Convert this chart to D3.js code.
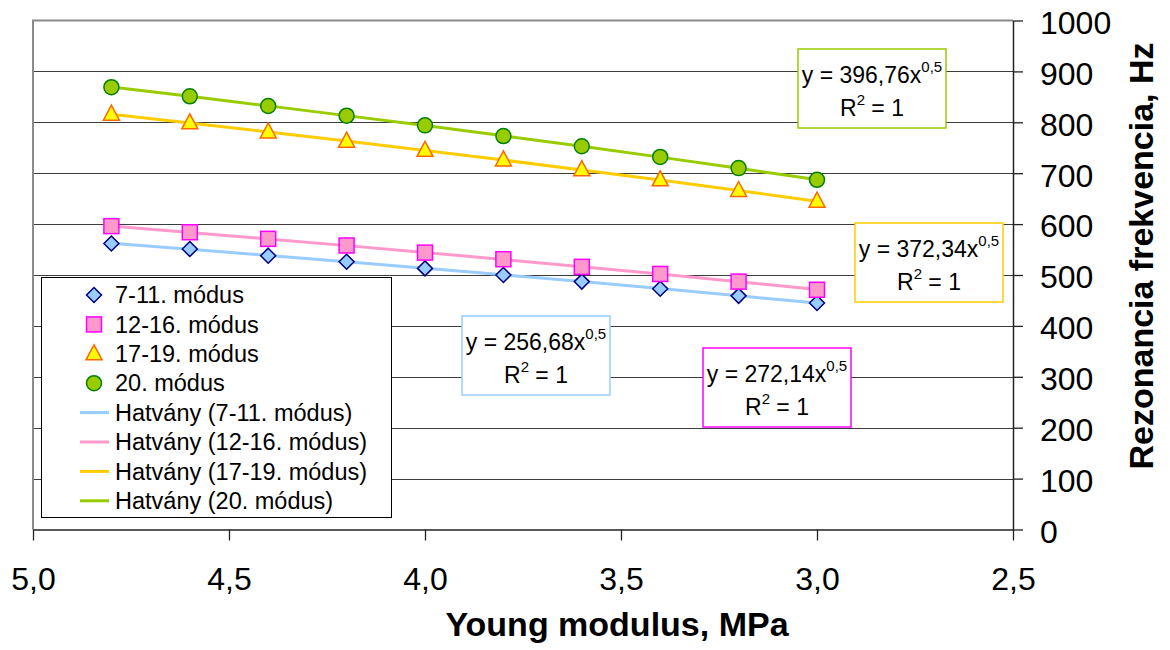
<!DOCTYPE html>
<html>
<head>
<meta charset="utf-8">
<script src="https://cdn.jsdelivr.net/npm/d3@7"></script>
<style>
  html, body { margin: 0; padding: 0; background: #fff; }
  svg { display: block; font-family: "Liberation Sans", Arial, sans-serif; }
</style>
</head>
<body>
<svg id="chart" width="1170" height="650"></svg>
<script>
// Young modulus (MPa) of each measurement
const youngModulus = [4.8, 4.6, 4.4, 4.2, 4.0, 3.8, 3.6, 3.4, 3.2, 3.0];

// Resonance frequency (Hz) per mode group
const modes7to11  = [562, 551, 538, 526, 513, 500, 487, 473, 459, 445];
const modes12to16 = [596, 584, 571, 558, 544, 531, 516, 502, 487, 471];
const modes17to19 = [816, 799, 781, 763, 745, 726, 707, 687, 666, 645];
const mode20      = [869, 851, 832, 813, 794, 773, 753, 732, 710, 687];

// Power-law trend coefficients (y = a·x^0.5)
const trendCoef = [256.68, 272.14, 372.34, 396.76];

const seriesNames = ["7-11. módus", "12-16. módus", "17-19. módus", "20. módus"];
const trendNames = ["Hatvány (7-11. módus)", "Hatvány (12-16. módus)", "Hatvány (17-19. módus)", "Hatvány (20. módus)"];

const xTicks = [5.0, 4.5, 4.0, 3.5, 3.0, 2.5];
const yTicks = [0, 100, 200, 300, 400, 500, 600, 700, 800, 900, 1000];

const xTitle = "Young modulus, MPa";
const yTitle = "Rezonancia frekvencia, Hz";

const seriesValues = [modes7to11, modes12to16, modes17to19, mode20];

const styles = [
  { shape: "diamond",  fill: "#99CCFF", stroke: "#000080", trend: "#99CCFF", box: "#99CCFF" },
  { shape: "square",   fill: "#FF99CC", stroke: "#FF00FF", trend: "#FF99CC", box: "#FF00FF" },
  { shape: "triangle", fill: "#FFFF00", stroke: "#FF6600", trend: "#FFCC00", box: "#FFCC00" },
  { shape: "circle",   fill: "#99CC00", stroke: "#008000", trend: "#99CC00", box: "#99CC00" }
];

// Equation label boxes (left, top)
const eqBoxes = [
  { x: 462, y: 316 },
  { x: 703, y: 348 },
  { x: 855, y: 223 },
  { x: 798, y: 49 }
];

const svg = d3.select("#chart");
const plot = { left: 33, right: 1013, top: 20.5, bottom: 529.5 };

const x = d3.scaleLinear().domain([5.0, 2.5]).range([plot.left, plot.right]);
const y = d3.scaleLinear().domain([0, 1000]).range([plot.bottom, plot.top]);

const fmt = v => d3.format(".1f")(v).replace(".", ",");

// gridlines
svg.append("g")
  .selectAll("line")
  .data(yTicks.filter(t => t > 0 && t < 1000))
  .join("line")
  .attr("x1", plot.left).attr("x2", plot.right)
  .attr("y1", d => Math.round(y(d)) + 0.5).attr("y2", d => Math.round(y(d)) + 0.5)
  .attr("stroke", "#3c3c3c").attr("stroke-width", 1);

// plot frame (top and left)
svg.append("path")
  .attr("d", `M${plot.left},${plot.bottom} V${plot.top} H${plot.right}`)
  .attr("fill", "none").attr("stroke", "#8a8a8a").attr("stroke-width", 2);

// x axis
const xAxis = svg.append("g")
  .attr("transform", `translate(0,${plot.bottom})`)
  .call(d3.axisBottom(x).tickValues(xTicks).tickFormat(fmt).tickSize(11).tickPadding(27).tickSizeOuter(0));
xAxis.select(".domain").attr("stroke", "#222").attr("stroke-width", 1.5);
xAxis.selectAll(".tick line").attr("stroke", "#222").attr("stroke-width", 1.3);
xAxis.selectAll("text").attr("font-size", 32).attr("fill", "#000")
  .style("font-family", "'Liberation Sans', Arial, sans-serif");

// y axis (right side)
const yAxis = svg.append("g")
  .attr("transform", `translate(${plot.right},0)`)
  .call(d3.axisRight(y).tickValues(yTicks).tickFormat(d3.format("d")).tickSize(10).tickPadding(17).tickSizeOuter(0));
yAxis.select(".domain").attr("stroke", "#222").attr("stroke-width", 1.5);
yAxis.selectAll(".tick line").attr("stroke", "#222").attr("stroke-width", 1.3);
yAxis.selectAll("text").attr("font-size", 32).attr("fill", "#000").attr("dy", "0.4em")
  .style("font-family", "'Liberation Sans', Arial, sans-serif");

// trend curves
const trendLine = d3.line().x(d => x(d[0])).y(d => y(d[1])).curve(d3.curveMonotoneX);
trendCoef.forEach((a, i) => {
  const pts = youngModulus.map(m => [m, a * Math.sqrt(m)]);
  svg.append("path")
    .attr("d", trendLine(pts))
    .attr("fill", "none")
    .attr("stroke", styles[i].trend)
    .attr("stroke-width", 3);
});

// marker drawing
function marker(g, shape, fill, stroke) {
  if (shape === "diamond") {
    g.append("path").attr("d", "M0,-7.5 L7.5,0 L0,7.5 L-7.5,0 Z");
  } else if (shape === "square") {
    g.append("rect").attr("x", -7.5).attr("y", -7.5).attr("width", 15).attr("height", 15);
  } else if (shape === "triangle") {
    g.append("path").attr("d", "M0,-9 L8,6 L-8,6 Z");
  } else {
    g.append("circle").attr("r", 7.5);
  }
  g.selectAll("*").attr("fill", fill).attr("stroke", stroke).attr("stroke-width", 1.5);
}

seriesValues.forEach((vals, i) => {
  const s = styles[i];
  svg.append("g")
    .selectAll("g")
    .data(vals.map((v, j) => [youngModulus[j], v]))
    .join("g")
    .attr("transform", d => `translate(${x(d[0])},${y(d[1])})`)
    .each(function () { marker(d3.select(this), s.shape, s.fill, s.stroke); });
});

// equation boxes
trendCoef.forEach((a, i) => {
  const b = eqBoxes[i];
  const w = 148, h = 79, cx = b.x + w / 2;
  const g = svg.append("g");
  g.append("rect").attr("x", b.x).attr("y", b.y).attr("width", w).attr("height", h)
    .attr("fill", "#fff").attr("stroke", styles[i].box).attr("stroke-width", 1.5);
  const t1 = g.append("text").attr("x", cx).attr("y", b.y + 34)
    .attr("text-anchor", "middle").attr("font-size", 23).attr("fill", "#000");
  t1.append("tspan").text("y = " + d3.format(".2f")(a).replace(".", ",") + "x");
  t1.append("tspan").attr("dx", 0).attr("dy", -11).attr("font-size", 15).text("0,5");
  const t2 = g.append("text").attr("x", cx).attr("y", b.y + 67)
    .attr("text-anchor", "middle").attr("font-size", 23).attr("fill", "#000");
  t2.append("tspan").text("R");
  t2.append("tspan").attr("dy", -11).attr("font-size", 15).text("2");
  t2.append("tspan").attr("dy", 11).text(" = 1");
});

// legend
const lg = svg.append("g");
lg.append("rect").attr("x", 41.5).attr("y", 277.5).attr("width", 350).attr("height", 240)
  .attr("fill", "#fff").attr("stroke", "#000").attr("stroke-width", 1);
const rowY = i => 295 + i * 29.4;
seriesNames.forEach((name, i) => {
  const g = lg.append("g").attr("transform", `translate(94,${rowY(i)})`);
  marker(g, styles[i].shape, styles[i].fill, styles[i].stroke);
  lg.append("text").attr("x", 115).attr("y", rowY(i)).attr("dy", "0.35em")
    .attr("font-size", 23.5).attr("fill", "#000").text(name);
});
trendNames.forEach((name, k) => {
  const i = k + 4;
  lg.append("line").attr("x1", 80).attr("x2", 109).attr("y1", rowY(i)).attr("y2", rowY(i))
    .attr("stroke", styles[k].trend).attr("stroke-width", 3);
  lg.append("text").attr("x", 115).attr("y", rowY(i)).attr("dy", "0.35em")
    .attr("font-size", 23.5).attr("fill", "#000").text(name);
});

// axis titles
svg.append("text").attr("x", 617).attr("y", 636).attr("text-anchor", "middle")
  .attr("font-size", 34).attr("font-weight", "bold").attr("fill", "#000").text(xTitle);
svg.append("text").attr("transform", "translate(1153,256) rotate(-90)")
  .attr("text-anchor", "middle")
  .attr("font-size", 34).attr("font-weight", "bold").attr("fill", "#000").text(yTitle);
</script>
</body>
</html>
